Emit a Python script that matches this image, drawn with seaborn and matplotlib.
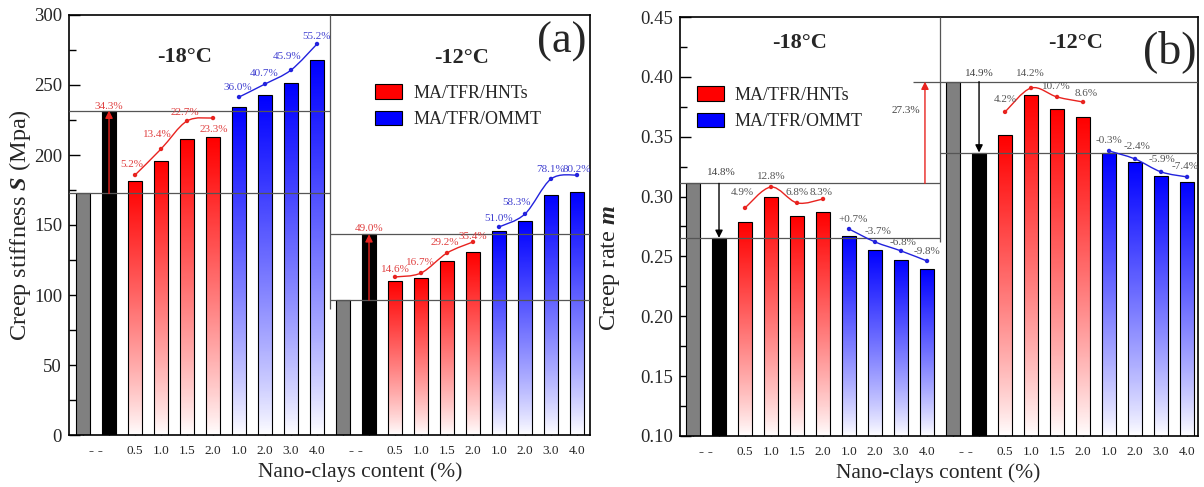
import numpy as np
import pandas as pd
import matplotlib
matplotlib.use('Agg')
import matplotlib.pyplot as plt
import seaborn as sns
from matplotlib.path import Path
from matplotlib.patches import PathPatch, Patch
from matplotlib.colors import LinearSegmentedColormap
from matplotlib.ticker import MultipleLocator, FixedLocator, FixedFormatter

# ---------------- data ----------------
temperatures = ['-18°C', '-12°C']
materials = ['Base', 'Control', 'HNTs 0.5', 'HNTs 1.0', 'HNTs 1.5', 'HNTs 2.0',
             'OMMT 1.0', 'OMMT 2.0', 'OMMT 3.0', 'OMMT 4.0']
kinds = ['base', 'ctrl', 'hnt', 'hnt', 'hnt', 'hnt', 'ommt', 'ommt', 'ommt', 'ommt']
content_labels = ['0.5', '1.0', '1.5', '2.0', '1.0', '2.0', '3.0', '4.0']
blank_label = '- -'
legend_labels = ['MA/TFR/HNTs', 'MA/TFR/OMMT']

stiffness_m18 = [172.5, 231.7, 181.4, 195.4, 211.5, 212.6, 234.5, 242.5, 251.4, 267.5]
stiffness_m12 = [96.4, 143.4, 110.3, 112.1, 124.4, 130.5, 145.4, 152.5, 171.5, 173.3]
rate_m18 = [0.311, 0.2655, 0.2784, 0.2993, 0.2834, 0.2873, 0.2673, 0.2556, 0.2473, 0.2394]
rate_m12 = [0.396, 0.3368, 0.3513, 0.3848, 0.3731, 0.3661, 0.3361, 0.3292, 0.3172, 0.3124]

stiff_ctrl_pct = ['34.3%', '49.0%']
stiff_hnt_pct_m18 = ['5.2%', '13.4%', '22.7%', '23.3%']
stiff_ommt_pct_m18 = ['36.0%', '40.7%', '45.9%', '55.2%']
stiff_hnt_pct_m12 = ['14.6%', '16.7%', '29.2%', '35.4%']
stiff_ommt_pct_m12 = ['51.0%', '58.3%', '78.1%', '80.2%']
rate_ctrl_pct = ['14.8%', '14.9%']
rate_temp_pct = '27.3%'
rate_hnt_pct_m18 = ['4.9%', '12.8%', '6.8%', '8.3%']
rate_ommt_pct_m18 = ['+0.7%', '-3.7%', '-6.8%', '-9.8%']
rate_hnt_pct_m12 = ['4.2%', '14.2%', '10.7%', '8.6%']
rate_ommt_pct_m12 = ['-0.3%', '-2.4%', '-5.9%', '-7.4%']

# heights of the trend-curve markers
stiff_hnt_curve_m18 = [185.7, 204.3, 224.3, 226.4]
stiff_ommt_curve_m18 = [241.4, 250.7, 260.7, 279.3]
stiff_hnt_curve_m12 = [112.9, 115.7, 130.0, 137.9]
stiff_ommt_curve_m12 = [148.6, 157.9, 182.9, 185.7]
rate_hnt_curve_m18 = [0.2905, 0.3080, 0.2947, 0.2980]
rate_ommt_curve_m18 = [0.2729, 0.2621, 0.2546, 0.2462]
rate_hnt_curve_m12 = [0.3707, 0.3907, 0.3832, 0.3790]
rate_ommt_curve_m12 = [0.3381, 0.3314, 0.3206, 0.3164]

# ---------------- style ----------------
sns.set_theme(style='ticks')
plt.rcParams['font.family'] = ['Liberation Serif', 'DejaVu Serif']
plt.rcParams['mathtext.fontset'] = 'custom'
plt.rcParams['mathtext.rm'] = 'Liberation Serif'
plt.rcParams['mathtext.it'] = 'Liberation Serif:italic'
plt.rcParams['mathtext.bf'] = 'Liberation Serif:bold'
try:
    plt.rcParams['mathtext.bfit'] = 'Liberation Serif:bold:italic'
except KeyError:
    pass

RED = '#ff0000'
BLUE = '#0000ff'
LINE = '#555555'
colors = {'base': '#808080', 'ctrl': '#000000', 'hnt': RED, 'ommt': BLUE}

fig = plt.figure(figsize=(12.04, 4.87), dpi=100)
axA = fig.add_axes([69 / 1204, 1 - 435 / 487, 521 / 1204, 420 / 487])
axB = fig.add_axes([680 / 1204, 1 - 436 / 487, 518 / 1204, 419 / 487])


def smooth_path(xs, ys):
    pts = np.column_stack([xs, ys]).astype(float)
    n = len(pts)
    verts = [pts[0]]
    codes = [Path.MOVETO]
    for i in range(n - 1):
        p0 = pts[i - 1] if i > 0 else pts[i]
        p1, p2 = pts[i], pts[i + 1]
        p3 = pts[i + 2] if i + 2 < n else pts[i + 1]
        verts += [p1 + (p2 - p0) / 6, p2 - (p3 - p1) / 6, p2]
        codes += [Path.CURVE4] * 3
    return Path(verts, codes)


def draw_bars(ax, v18, v12, ylow):
    values = v18 + v12
    pos = list(range(len(values)))
    kk = kinds + kinds
    df = pd.DataFrame({'pos': pos, 'value': values, 'kind': kk})
    pal = [colors[k] for k in kk]
    sns.barplot(data=df, x='pos', y='value', hue='pos', palette=pal, dodge=False,
                width=0.53, edgecolor='black', linewidth=0.8, errorbar=None,
                legend=False, ax=ax)
    grad = np.linspace(0, 1, 256).reshape(-1, 1) ** 0.85
    for p in ax.patches:
        xc = p.get_x() + p.get_width() / 2
        i = int(round(xc))
        k = kk[i]
        if k in ('hnt', 'ommt'):
            cmap = LinearSegmentedColormap.from_list('g', ['white', colors[k]])
            top = p.get_y() + p.get_height()
            im = ax.imshow(grad, cmap=cmap, origin='lower', aspect='auto',
                           extent=[p.get_x(), p.get_x() + p.get_width(), ylow, top],
                           zorder=p.get_zorder() - 0.05, interpolation='bilinear')
            im.set_clip_path(p)
            p.set_facecolor('none')


def draw_curve(ax, xs, ys, labels, color, tcolor, offsets):
    ax.add_patch(PathPatch(smooth_path(xs, ys), fc='none', ec=color, lw=1.0, zorder=5))
    sns.scatterplot(x=xs, y=ys, color=color, s=10, edgecolor='none', ax=ax, zorder=6)
    for x, y, t, (dx, dy) in zip(xs, ys, labels, offsets):
        ax.annotate(t, (x, y), xytext=(dx * 0.72, dy * 0.72), textcoords='offset points',
                    ha='center', va='center', fontsize=8, color=tcolor, zorder=7)


def arrow(ax, x, y0, y1, color):
    ax.annotate('', xy=(x, y1), xytext=(x, y0),
                arrowprops=dict(arrowstyle='-|>', color=color, lw=1.0,
                                mutation_scale=11, shrinkA=0, shrinkB=0), zorder=6)


def style_axes(ax, xlim, ylim, ymajor, yminor):
    ax.set_xlim(*xlim)
    ax.set_ylim(*ylim)
    ax.set_xticks(range(20))
    ax.set_xticklabels(['', ''] + content_labels + ['', ''] + content_labels)
    ax.xaxis.set_minor_locator(FixedLocator([0.5, 10.5]))
    ax.xaxis.set_minor_formatter(FixedFormatter([blank_label, blank_label]))
    ax.yaxis.set_major_locator(MultipleLocator(ymajor))
    ax.yaxis.set_minor_locator(MultipleLocator(yminor))
    ax.tick_params(axis='both', which='both', direction='in', color='black')
    ax.tick_params(axis='y', which='major', length=8, width=1, labelsize=13.5, pad=5)
    ax.tick_params(axis='y', which='minor', length=5, width=1)
    ax.tick_params(axis='x', which='major', length=7, width=1, labelsize=9.5, pad=7)
    ax.tick_params(axis='x', which='minor', length=0, labelsize=11, pad=7)
    for lab in ax.xaxis.get_minorticklabels():
        lab.set_fontweight('bold')
    for s in ax.spines.values():
        s.set_visible(True)
        s.set_linewidth(1.2)
        s.set_color('black')
    ax.set_xlabel('Nano-clays content (%)', fontsize=15.5)


# ---------------- panel (a) ----------------
ax = axA
draw_bars(ax, stiffness_m18, stiffness_m12, 0)
ax.hlines([stiffness_m18[0], stiffness_m18[1]], -0.6, 9.5, color=LINE, lw=0.9, zorder=4)
ax.hlines([stiffness_m12[0], stiffness_m12[1]], 9.5, 19.6, color=LINE, lw=0.9, zorder=4)
ax.vlines(9.5, 90, 300, color=LINE, lw=0.9, zorder=4)
arrow(ax, 1, stiffness_m18[0], stiffness_m18[1], '#e8231f')
arrow(ax, 11, stiffness_m12[0], stiffness_m12[1], '#e8231f')
ax.text(1, 234.5, stiff_ctrl_pct[0], ha='center', va='center', fontsize=8, color='#e04040', zorder=7)
ax.text(11, 147.5, stiff_ctrl_pct[1], ha='center', va='center', fontsize=8, color='#e04040', zorder=7)
draw_curve(ax, [2, 3, 4, 5], stiff_hnt_curve_m18, stiff_hnt_pct_m18, '#e8231f', '#e04040',
           [(-3, 11), (-4, 14), (-2, 8), (1, -11)])
draw_curve(ax, [6, 7, 8, 9], stiff_ommt_curve_m18, stiff_ommt_pct_m18, '#2222dd', '#4040d0',
           [(-1, 10), (-1, 11), (-4, 14), (0, 7)])
draw_curve(ax, [12, 13, 14, 15], stiff_hnt_curve_m12, stiff_hnt_pct_m12, '#e8231f', '#e04040',
           [(0, 7), (-1, 11), (-2, 10), (0, 5)])
draw_curve(ax, [16, 17, 18, 19], stiff_ommt_curve_m12, stiff_ommt_pct_m12, '#2222dd', '#4040d0',
           [(0, 8), (-8, 11), (0, 9), (0, 6)])
ax.text(3.9, 270, temperatures[0], ha='center', va='center', fontsize=16, fontweight='bold')
ax.text(14.55, 269, temperatures[1], ha='center', va='center', fontsize=16, fontweight='bold')
ax.text(18.4, 281, '(a)', ha='center', va='center', fontsize=32)
style_axes(ax, (-0.54, 19.5), (0, 300), 50, 25)
ax.set_ylabel(r'Creep stiffness $\mathbfit{S}$ (Mpa)', fontsize=17.5)
ax.yaxis.set_label_coords(-0.069, 0.5)
ax.xaxis.set_label_coords(0.559, -0.064)
hA = [Patch(facecolor=RED, edgecolor='black', lw=0.8), Patch(facecolor=BLUE, edgecolor='black', lw=0.8)]
ax.legend(hA, legend_labels, loc='upper left', bbox_to_anchor=(0.588, 0.835), frameon=False,
          fontsize=13, handlelength=1.5, handleheight=0.85, labelspacing=0.5,
          borderpad=0, borderaxespad=0, handletextpad=0.6)

# ---------------- panel (b) ----------------
ax = axB
draw_bars(ax, rate_m18, rate_m12, 0.10)
ax.hlines([rate_m18[0], rate_m18[1]], -0.6, 9.5, color=LINE, lw=0.9, zorder=4)
ax.hlines([rate_m12[1]], 9.5, 19.6, color=LINE, lw=0.9, zorder=4)
ax.hlines([rate_m12[0]], 8.46, 19.6, color=LINE, lw=0.9, zorder=4)
ax.vlines(9.5, 0.262, 0.45, color=LINE, lw=0.9, zorder=4)
arrow(ax, 1, rate_m18[0], rate_m18[1], 'black')
arrow(ax, 11, rate_m12[0], rate_m12[1], 'black')
arrow(ax, 8.92, rate_m18[0], rate_m12[0], '#e8231f')
ax.text(1.08, 0.3197, rate_ctrl_pct[0], ha='center', va='center', fontsize=8, color='#444444', zorder=7)
ax.text(11, 0.4024, rate_ctrl_pct[1], ha='center', va='center', fontsize=8, color='#444444', zorder=7)
ax.text(8.2, 0.372, rate_temp_pct, ha='center', va='center', fontsize=8, color='#444444', zorder=7)
draw_curve(ax, [2, 3, 4, 5], rate_hnt_curve_m18, rate_hnt_pct_m18, '#e8231f', '#555555',
           [(-3, 15), (0, 10), (0, 10), (-2, 6)])
draw_curve(ax, [6, 7, 8, 9], rate_ommt_curve_m18, rate_ommt_pct_m18, '#2222dd', '#555555',
           [(4, 10), (3, 10), (2, 8), (0, 9)])
draw_curve(ax, [12, 13, 14, 15], rate_hnt_curve_m12, rate_hnt_pct_m12, '#e8231f', '#555555',
           [(0, 12), (-1, 14), (-1, 10), (3, 8)])
draw_curve(ax, [16, 17, 18, 19], rate_ommt_curve_m12, rate_ommt_pct_m12, '#2222dd', '#555555',
           [(0, 10), (2, 12), (1, 12), (-2, 10)])
ax.text(4.1, 0.428, temperatures[0], ha='center', va='center', fontsize=16, fontweight='bold')
ax.text(14.73, 0.428, temperatures[1], ha='center', va='center', fontsize=16, fontweight='bold')
ax.text(18.35, 0.421, '(b)', ha='center', va='center', fontsize=33)
style_axes(ax, (-0.5, 19.42), (0.10, 0.45), 0.05, 0.025)
ax.yaxis.set_major_formatter(matplotlib.ticker.FormatStrFormatter('%.2f'))
ax.set_ylabel(r'Creep rate $\mathbfit{m}$', fontsize=17.5)
ax.yaxis.set_label_coords(-0.112, 0.40)
ax.xaxis.set_label_coords(0.498, -0.064)
hB = [Patch(facecolor=RED, edgecolor='black', lw=0.8), Patch(facecolor=BLUE, edgecolor='black', lw=0.8)]
ax.legend(hB, legend_labels, loc='upper left', bbox_to_anchor=(0.033, 0.835), frameon=False,
          fontsize=13, handlelength=1.5, handleheight=0.85, labelspacing=0.5,
          borderpad=0, borderaxespad=0, handletextpad=0.6)

fig.savefig('out.png', dpi=100)
